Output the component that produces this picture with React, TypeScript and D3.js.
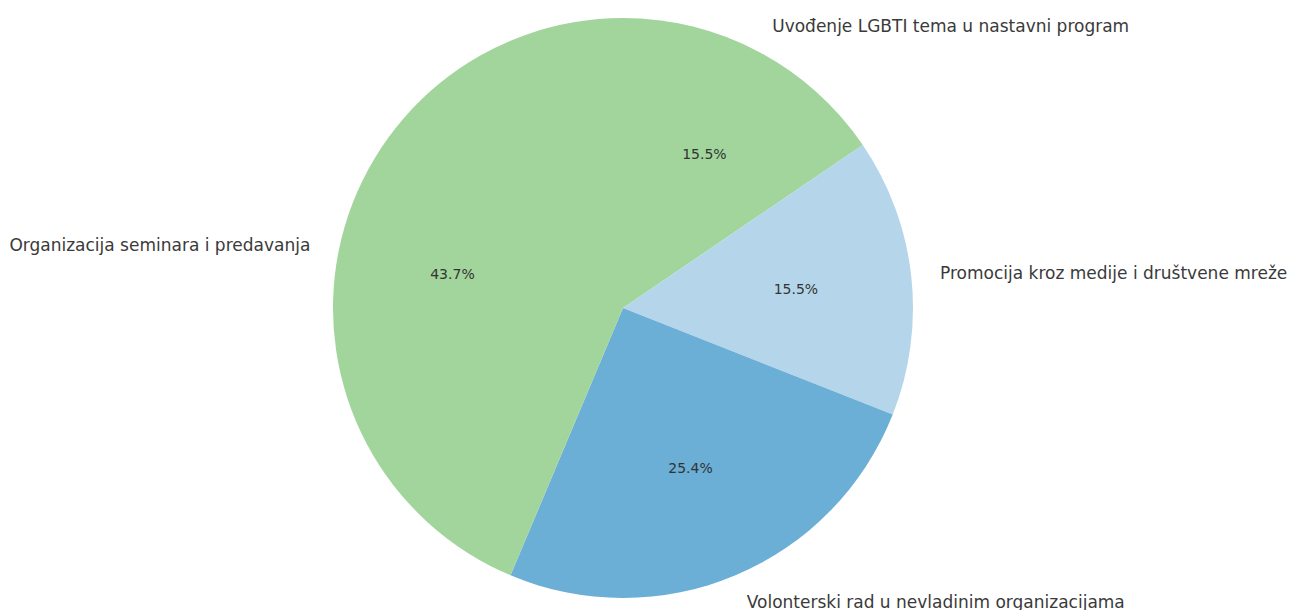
// @ts-nocheck
import { useRef, useEffect } from "react";
import * as d3 from "d3";

const categories = [
  "Uvođenje LGBTI tema u nastavni program",
  "Promocija kroz medije i društvene mreže",
  "Volonterski rad u nevladinim organizacijama",
  "Organizacija seminara i predavanja",
];
const counts = [11, 11, 18, 31];
const palette = ["#a1d59b", "#b5d6ea", "#6baed6"];

export default function App() {
  const ref = useRef(null);

  useEffect(() => {
    const svg = d3.select(ref.current);
    svg.selectAll("*").remove();

    const width = 1293;
    const height = 610;
    const cx = 623;
    const cy = 308;
    const r = 290;

    const data = categories.map((c, i) => ({ name: c, value: counts[i], idx: i }));
    const total = d3.sum(counts);

    const pie = d3.pie().value((d) => d.value).sort(null);
    const arcs = pie(data);
    const arc = d3.arc().innerRadius(0).outerRadius(r);

    const g = svg.append("g").attr("transform", `translate(${cx},${cy})`);

    g.selectAll("path")
      .data(arcs)
      .enter()
      .append("path")
      .attr("d", arc)
      .attr("fill", (d) => palette[d.data.idx % palette.length]);

    const mid = (d) => (d.startAngle + d.endAngle) / 2;

    // category labels at 1.1r
    g.selectAll("text.lbl")
      .data(arcs)
      .enter()
      .append("text")
      .attr("class", "lbl")
      .attr("x", (d) => Math.sin(mid(d)) * r * 1.1)
      .attr("y", (d) => -Math.cos(mid(d)) * r * 1.1)
      .attr("text-anchor", (d) => (Math.sin(mid(d)) >= 0 ? "start" : "end"))
      .attr("dominant-baseline", "central")
      .attr("font-family", "DejaVu Sans")
      .attr("font-size", 17)
      .attr("fill", "#3a3a3a")
      .text((d) => d.data.name);

    // percentages at 0.6r
    g.selectAll("text.pct")
      .data(arcs)
      .enter()
      .append("text")
      .attr("class", "pct")
      .attr("x", (d) => Math.sin(mid(d)) * r * 0.6)
      .attr("y", (d) => -Math.cos(mid(d)) * r * 0.6)
      .attr("text-anchor", "middle")
      .attr("dominant-baseline", "central")
      .attr("font-family", "DejaVu Sans")
      .attr("font-size", 14)
      .attr("fill", "#333333")
      .text((d) => `${((d.data.value / total) * 100).toFixed(1)}%`);

    svg.attr("width", width).attr("height", height);
  }, []);

  return (
    <svg
      ref={ref}
      style={{ position: "absolute", left: 0, top: 0, background: "#ffffff" }}
    ></svg>
  );
}
